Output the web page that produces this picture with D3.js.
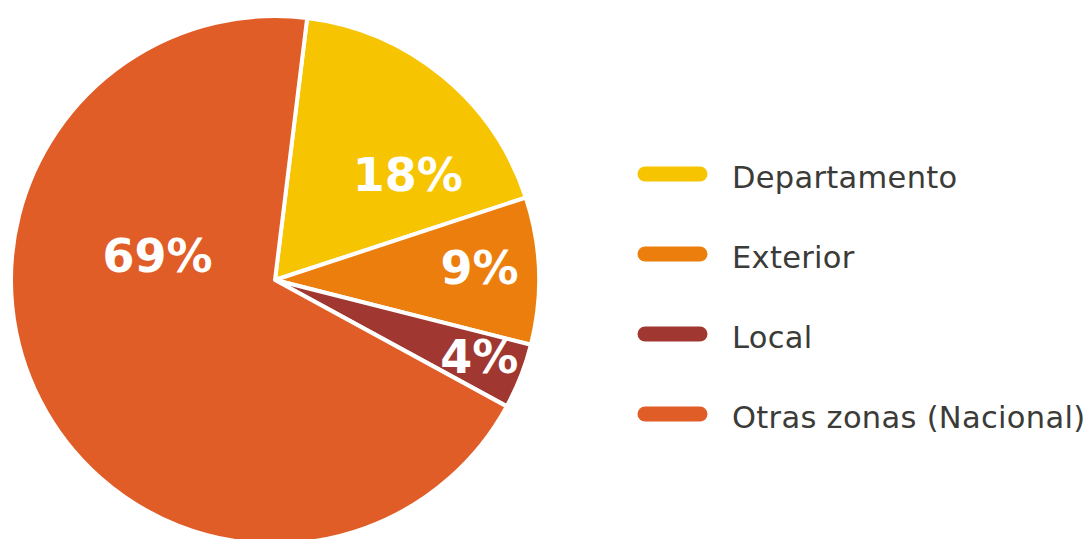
<!DOCTYPE html>
<html>
<head>
<meta charset="utf-8">
<script src="https://cdn.jsdelivr.net/npm/d3@7"></script>
<style>
  html, body { margin: 0; padding: 0; background: #ffffff; }
  svg { display: block; }
</style>
</head>
<body>
<svg id="chart" width="1090" height="539"></svg>
<script>
// Origin of the flows, share in percent
const categories = ["Departamento", "Exterior", "Local", "Otras zonas (Nacional)"];
const shares = [18, 9, 4, 69];
const colors = ["#F6C400", "#EC7E0E", "#A03730", "#E15D27"];

// Label placement inside each slice: distance from centre and angular shift (deg)
const labelRadius = [170, 205, 218, 120];
const labelShift = [12, -1.5, -1, 39];

const width = 1090, height = 539;
const cx = 275, cy = 280, radius = 264;
const startDeg = 7;

const svg = d3.select("#chart");

const data = categories.map((c, i) => ({ name: c, value: shares[i], color: colors[i], i }));

const pie = d3.pie()
  .value(d => d.value)
  .sort(null)
  .startAngle(startDeg * Math.PI / 180)
  .endAngle((startDeg + 360) * Math.PI / 180);

const arcs = pie(data);
const arc = d3.arc().innerRadius(0).outerRadius(radius);

const g = svg.append("g").attr("transform", `translate(${cx},${cy})`);

g.selectAll("path.slice")
  .data(arcs)
  .join("path")
  .attr("class", "slice")
  .attr("d", arc)
  .attr("fill", d => d.data.color)
  .attr("stroke", "#ffffff")
  .attr("stroke-width", 4)
  .attr("stroke-linejoin", "round");

g.selectAll("text.pct")
  .data(arcs)
  .join("text")
  .attr("class", "pct")
  .attr("transform", d => {
    const a = (d.startAngle + d.endAngle) / 2 + labelShift[d.index] * Math.PI / 180;
    const r = labelRadius[d.index];
    return `translate(${r * Math.sin(a)},${-r * Math.cos(a)})`;
  })
  .attr("text-anchor", "middle")
  .attr("dy", "0.36em")
  .attr("fill", "#ffffff")
  .style("font-family", "'DejaVu Sans', sans-serif")
  .style("font-weight", "bold")
  .style("font-size", "46px")
  .text(d => d.data.value + "%");

// Legend
const legendY = d3.scalePoint()
  .domain(categories)
  .range([188, 428]);

const legend = svg.append("g");
const rows = legend.selectAll("g.row")
  .data(data)
  .join("g")
  .attr("class", "row")
  .attr("transform", d => `translate(0,${legendY(d.name)})`);

rows.append("line")
  .attr("x1", 645).attr("x2", 700)
  .attr("y1", -14).attr("y2", -14)
  .attr("stroke", d => d.color)
  .attr("stroke-width", 15)
  .attr("stroke-linecap", "round");

rows.append("text")
  .attr("x", 732)
  .attr("y", 0)
  .attr("fill", "#3b3b38")
  .style("font-family", "'DejaVu Sans', sans-serif")
  .style("font-size", "30.5px")
  .style("letter-spacing", "0.3px")
  .text(d => d.name);
</script>
</body>
</html>
